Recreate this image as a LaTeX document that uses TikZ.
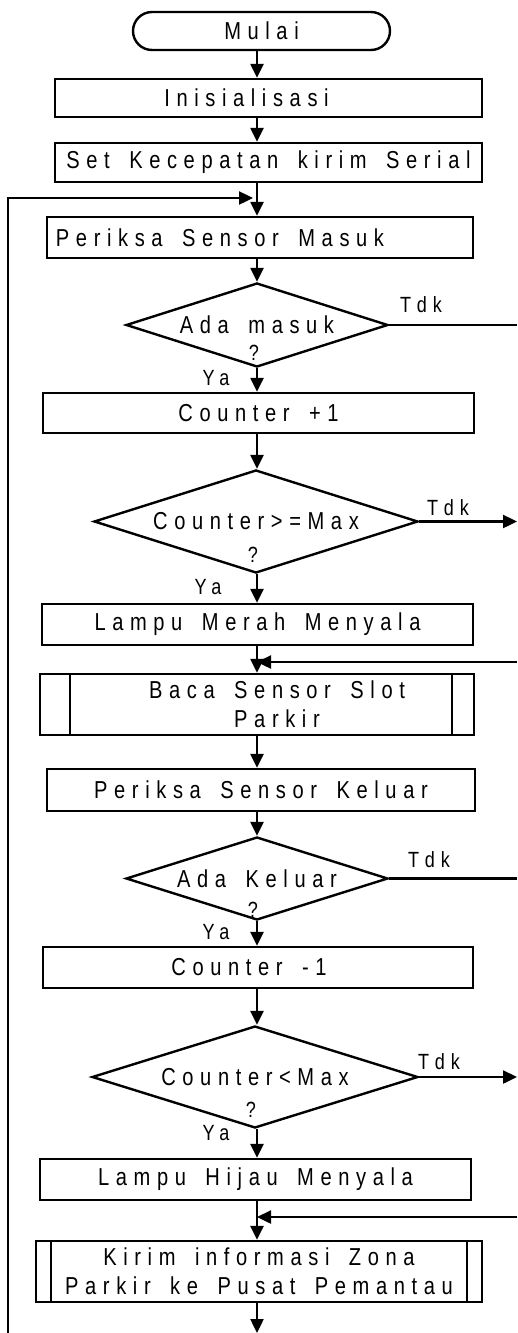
\documentclass[tikz,border=0pt]{standalone}
\usepackage{fontspec}
\setmainfont{Liberation Sans}
\newfontfamily\spacedfont[LetterSpace=27, FakeStretch=0.82, WordSpace=1.6]{Liberation Sans}
\usetikzlibrary{shapes.geometric,shapes.misc,arrows.meta}

\begin{document}
\begin{tikzpicture}[x=1pt, y=-1pt,
    base/.style={draw, line width=2.4pt, inner sep=0pt, align=center, font=\spacedfont\fontsize{24.5}{29}\selectfont},
    proc/.style={base, rectangle},
    term/.style={base, rounded rectangle},
    dec/.style={base, diamond, aspect=3.1},
    lbl/.style={inner sep=0pt, font=\spacedfont\fontsize{22}{26}\selectfont},
    line/.style={line width=2.4pt},
    arr/.style={line, -{Triangle[length=14pt, width=13pt]}}]
            \useasboundingbox (0,0) rectangle (517,1333);
            \coordinate (spine) at (257,0);

            % Nodes
            \node[term, minimum width=257pt, minimum height=38pt] (mulai) at (261.5,31) {Mulai};
            \node[proc, minimum width=427pt, minimum height=38pt] (init) at (268.5,98) {Inisialisasi\hspace*{44pt}};
            \node[proc, minimum width=427pt, minimum height=39pt] (serial) at (268.5,162.5) {Set Kecepatan kirim Serial};
            \node[proc, minimum width=426pt, minimum height=41pt] (cekmasuk) at (260,237.5) {Periksa Sensor Masuk\hspace*{80pt}};
            \node[dec, minimum width=262pt, minimum height=84pt] (adamasuk) at (257,325) {Ada masuk};
            \node[proc, minimum width=431pt, minimum height=40pt] (tambah) at (258.5,413) {Counter +1};
            \node[dec, minimum width=324pt, minimum height=103pt] (penuh) at (256,521.5) {Counter>=Max};
            \node[proc, minimum width=431pt, minimum height=41pt] (merah) at (257.5,624.5) {Lampu Merah Menyala};
            \node[proc, minimum width=434pt, minimum height=61pt] (bacaslot) at (257,704.5) {\hspace*{40pt}Baca Sensor Slot\\\hspace*{40pt}Parkir};
            \node[proc, minimum width=428pt, minimum height=42pt] (cekkeluar) at (261,790) {Periksa Sensor Keluar};
            \node[dec, minimum width=262pt, minimum height=83pt] (adakeluar) at (257,878.5) {Ada Keluar};
            \node[proc, minimum width=430pt, minimum height=41pt] (kurang) at (258,967.5) {Counter -1\hspace*{18pt}};
            \node[dec, minimum width=326pt, minimum height=102pt] (kosong) at (255,1077) {Counter<Max};
            \node[proc, minimum width=431pt, minimum height=41pt] (hijau) at (255.5,1179.5) {Lampu Hijau Menyala};
            \node[proc, minimum width=446pt, minimum height=61pt] (kirim) at (259,1271.5) {Kirim informasi Zona\\Parkir ke Pusat Pemantau};

            % sub-process side bars
            \draw[line] ([xshift=31pt]bacaslot.north west) -- ([xshift=31pt]bacaslot.south west);
            \draw[line] ([xshift=-23pt]bacaslot.north east) -- ([xshift=-23pt]bacaslot.south east);
            \draw[line] ([xshift=16pt]kirim.north west) -- ([xshift=16pt]kirim.south west);
            \draw[line] ([xshift=-16pt]kirim.north east) -- ([xshift=-16pt]kirim.south east);

            % Labels
            \node[lbl] (q1) at (254,353) {?};
            \node[lbl] (q2) at (253,555) {?};
            \node[lbl] (q3) at (253,910) {?};
            \node[lbl] (q4) at (251,1110) {?};
            \node[lbl] (ya1) at (216,378) {Ya};
            \node[lbl] (ya2) at (208,587) {Ya};
            \node[lbl] (ya3) at (216,932) {Ya};
            \node[lbl] (ya4) at (216,1133) {Ya};
            \node[lbl] (tdk1) at (421,305) {Tdk};
            \node[lbl] (tdk2) at (448,508) {Tdk};
            \node[lbl] (tdk3) at (429,860) {Tdk};
            \node[lbl] (tdk4) at (439,1062) {Tdk};

            % off-page ends
            \coordinate (out1) at (517,325);
            \coordinate (out2) at (517,521.5);
            \coordinate (back1) at (517,662);
            \coordinate (out3) at (517,878.5);
            \coordinate (out4) at (517,1077);
            \coordinate (back2) at (517,1217);
            \coordinate (akhir) at (257,1333);
            \coordinate (loopbot) at (8,1333);
            \coordinate (loopjoin) at (253,198);

            \draw[arr] (mulai.south -| spine) -- (init.north -| spine);
            \draw[arr] (init.south -| spine) -- (serial.north -| spine);
            \draw[arr] (serial.south -| spine) -- (cekmasuk.north -| spine);
            \draw[arr] (loopbot) |- (loopjoin);
            \draw[arr] (cekmasuk.south -| spine) -- (adamasuk.north -| spine);
            \draw[line] (adamasuk.east) -- (out1);
            \draw[arr] (adamasuk.south -| spine) -- (tambah.north -| spine);
            \draw[arr] (tambah.south -| spine) -- (penuh.north -| spine);
            \draw[arr] (penuh.east) -- (out2);
            \draw[arr] (penuh.south -| spine) -- (merah.north -| spine);
            \draw[arr] (merah.south -| spine) -- (bacaslot.north -| spine);
            \draw[arr] (back1) -- (back1 -| spine);
            \draw[arr] (bacaslot.south -| spine) -- (cekkeluar.north -| spine);
            \draw[arr] (cekkeluar.south -| spine) -- (adakeluar.north -| spine);
            \draw[line] (adakeluar.east) -- (out3);
            \draw[arr] (adakeluar.south -| spine) -- (kurang.north -| spine);
            \draw[arr] (kurang.south -| spine) -- (kosong.north -| spine);
            \draw[arr] (kosong.east) -- (out4);
            \draw[arr] (kosong.south -| spine) -- (hijau.north -| spine);
            \draw[arr] (hijau.south -| spine) -- (kirim.north -| spine);
            \draw[arr] (back2) -- (back2 -| spine);
            \draw[arr] (kirim.south -| spine) -- (akhir);
\end{tikzpicture}
\end{document}
